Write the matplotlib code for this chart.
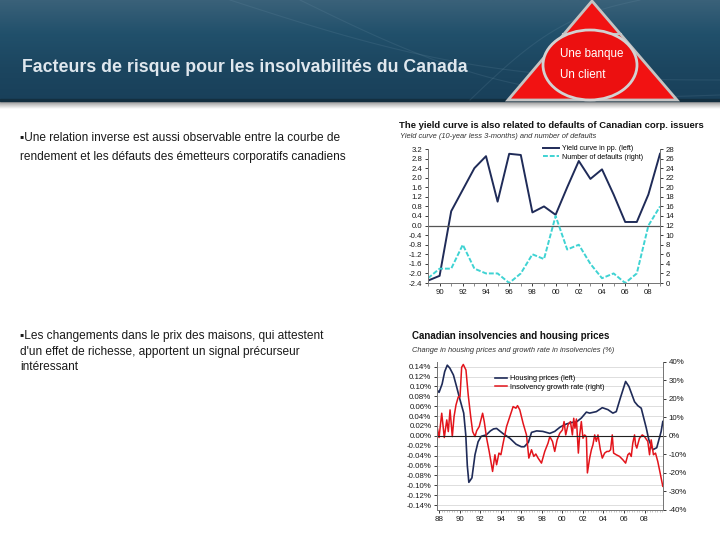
import numpy as np
import matplotlib.pyplot as plt
from matplotlib.colors import LinearSegmentedColormap
from matplotlib.patches import Polygon, Ellipse, Rectangle
from matplotlib.ticker import FuncFormatter, MultipleLocator

plt.rcParams['font.family'] = ['Liberation Sans', 'DejaVu Sans']

# --- chart 1: yield curve vs defaults (annual) ---
yc_years = [1989, 1990, 1991, 1992, 1993, 1994, 1995, 1996, 1997, 1998, 1999,
            2000, 2001, 2002, 2003, 2004, 2005, 2006, 2007, 2008, 2009]
yield_curve = [-2.3, -2.1, 0.6, 1.5, 2.4, 2.9, 1.0, 3.0, 2.95, 0.55, 0.8,
               0.45, 1.6, 2.7, 1.95, 2.35, 1.3, 0.15, 0.15, 1.3, 3.0]
defaults = [1, 3, 3, 8, 3, 2, 2, 0, 2, 6, 5,
            14, 7, 8, 4, 1, 2, 0, 2, 12, 16]

# --- chart 2: housing prices (left, %) ---
house_years = [1987.80, 1988.00, 1988.30, 1988.55, 1988.80, 1989.05, 1989.40, 1989.70,
               1990.00, 1990.40, 1990.60, 1990.75, 1990.90, 1991.20, 1991.50, 1991.80,
               1992.10, 1992.60, 1993.00, 1993.30, 1993.60, 1994.20, 1994.90, 1995.50,
               1996.00, 1996.30, 1996.70, 1997.00, 1997.50, 1998.10, 1998.78, 1999.26,
               1999.80, 2000.40, 2000.90, 2001.37, 2001.85, 2002.34, 2002.66, 2003.31,
               2003.89, 2004.44, 2004.92, 2005.25, 2005.64, 2006.16, 2006.48, 2007.03,
               2007.35, 2007.68, 2008.17, 2008.42, 2008.81, 2009.19, 2009.62, 2009.78]
house_prices = [0.093, 0.088, 0.105, 0.130, 0.143, 0.137, 0.123, 0.100,
                0.076, 0.046, 0.002, -0.060, -0.094, -0.085, -0.038, -0.012,
                -0.001, 0.002, 0.010, 0.014, 0.015, 0.005, -0.005, -0.017,
                -0.022, -0.022, -0.013, 0.007, 0.010, 0.009, 0.005, 0.009,
                0.018, 0.024, 0.027, 0.028, 0.036, 0.048, 0.046, 0.049,
                0.057, 0.053, 0.046, 0.049, 0.076, 0.110, 0.100, 0.069,
                0.061, 0.056, 0.016, -0.008, -0.028, -0.024, 0.009, 0.029]

# --- chart 2: insolvency growth rate (right, %) ---
insolv_years = [1987.78, 1988.00, 1988.26, 1988.51, 1988.75, 1988.90, 1989.07, 1989.29,
                1989.46, 1989.65, 1989.87, 1990.04, 1990.20, 1990.36, 1990.62, 1990.84,
                1991.08, 1991.27, 1991.50, 1991.66, 1991.91, 1992.24, 1992.40, 1992.63,
                1992.88, 1993.21, 1993.44, 1993.60, 1993.83, 1994.02, 1994.24, 1994.57,
                1994.89, 1995.21, 1995.48, 1995.64, 1995.86, 1996.18, 1996.51, 1996.74,
                1997.00, 1997.22, 1997.42, 1997.64, 1997.97, 1998.29, 1998.61, 1998.78,
                1999.04, 1999.26, 1999.49, 1999.75, 2000.01, 2000.17, 2000.33, 2000.55,
                2000.79, 2000.98, 2001.11, 2001.23, 2001.37, 2001.56, 2001.69, 2001.85,
                2002.01, 2002.17, 2002.34, 2002.44, 2002.66, 2002.83, 2002.98, 2003.15,
                2003.31, 2003.47, 2003.70, 2003.89, 2004.12, 2004.34, 2004.53, 2004.70,
                2004.86, 2004.99, 2005.25, 2005.57, 2005.89, 2006.16, 2006.38, 2006.54,
                2006.71, 2006.86, 2007.03, 2007.13, 2007.25, 2007.51, 2007.78, 2008.00,
                2008.32, 2008.49, 2008.65, 2008.87, 2009.07, 2009.29, 2009.52, 2009.78]
insolv_growth = [5.9, -0.9, 12.2, -0.9, 8.6, 2.3, 14.0, -0.4,
                 10.4, 16.7, 21.0, 21.0, 37.0, 38.5, 35.5, 22.0,
                 10.4, 2.3, -0.4, 2.7, 5.0, 12.2, 7.7, -1.3,
                 -8.4, -19.2, -10.2, -15.6, -9.3, -10.2, -3.9, 5.0,
                 10.4, 15.8, 14.9, 16.3, 14.0, 6.8, 0.5, -12.0,
                 -7.5, -11.1, -9.8, -12.0, -14.7, -8.4, -3.9, -0.4,
                 -3.0, -8.4, -2.2, 1.4, 3.2, 7.7, 0.5, 5.9,
                 7.7, 0.5, 9.5, 4.1, 9.1, -9.3, 0.5, 7.7,
                 -1.3, 0.5, -0.4, -20.0, -12.0, -7.5, -4.8, 0.5,
                 -3.0, 0.5, -7.5, -12.0, -9.3, -8.4, -8.4, -7.5,
                 0.5, -9.3, -10.2, -11.1, -12.9, -14.7, -10.2, -9.3,
                 -11.1, -3.9, 0.5, -4.8, -6.6, -1.3, 0.5, -0.4,
                 -3.0, -10.2, -2.2, -10.2, -9.3, -13.8, -20.0, -27.2]

W, H = 720, 540
NAVY = '#1f2b58'
CYAN = '#3fd3d3'
RED = '#e3141b'
TXT = '#1a1a1a'

fig = plt.figure(figsize=(7.2, 5.4), dpi=100)

# background layer in pixel coordinates
bg = fig.add_axes([0, 0, 1, 1])
bg.set_xlim(0, W)
bg.set_ylim(H, 0)
bg.axis('off')

# banner
grad = np.linspace(0, 1, 100).reshape(-1, 1)
bg.imshow(grad, extent=(0, W, 101, 0), aspect='auto', zorder=1,
          cmap=LinearSegmentedColormap.from_list('ban', ['#3a6179', '#21506b', '#1c4660', '#19405a']))
bg.add_patch(Rectangle((0, 98.5), W, 2.5, color='#132f40', zorder=2))
shade = np.linspace(0, 1, 50).reshape(-1, 1)
bg.imshow(shade, extent=(0, W, 109, 101), aspect='auto', zorder=1,
          cmap=LinearSegmentedColormap.from_list('sh', ['#8a8a8a', '#c8c8c8', '#ffffff']))

# faint decorative swooshes in banner
t = np.linspace(0, 1, 100)
for x0, y0, x1, y1, bend in [(230, 0, 720, 80, 25), (300, 0, 720, 95, 35), (640, 0, 470, 100, -20)]:
    xs = x0 + (x1 - x0) * t
    ys = y0 + (y1 - y0) * t + bend * np.sin(np.pi * t)
    bg.plot(xs, ys, color='#6f92a8', lw=0.8, alpha=0.18, zorder=2)

bg.text(22, 67, 'Facteurs de risque pour les insolvabilités du Canada', color='#dfe7ee',
        fontsize=12.8, fontweight='bold', va='center', ha='left', zorder=5)

# red triangle logo
bg.add_patch(Polygon([(508, 100), (592, 1), (677, 100)], closed=True, fc='#f21212',
                     ec='#c4c4c4', lw=2, zorder=3))
bg.plot([563, 621], [34, 34], color='#c4c4c4', lw=1.5, zorder=3)
bg.add_patch(Ellipse((590, 65), 94, 70, fc='#ec1010', ec='#d2d2d2', lw=2, zorder=4))
bg.text(560, 54, 'Une banque', color='white', fontsize=8.4, va='center', ha='left', zorder=5)
bg.text(560, 75, 'Un client', color='white', fontsize=8.4, va='center', ha='left', zorder=5)

# bullet text
bullet1 = ['▪Une relation inverse est aussi observable entre la courbe de',
           'rendement et les défauts des émetteurs corporatifs canadiens']
bullet2 = ["▪Les changements dans le prix des maisons, qui attestent",
           "d'un effet de richesse, apportent un signal précurseur",
           "intéressant"]
for line, y in zip(bullet1, [138, 157]):
    bg.text(20, y, line, fontsize=8.6, color=TXT, va='center', ha='left')
for line, y in zip(bullet2, [336, 352, 367]):
    bg.text(20, y, line, fontsize=8.6, color=TXT, va='center', ha='left')

# chart titles
bg.text(399, 125, 'The yield curve is also related to defaults of Canadian corp. issuers',
        fontsize=6.8, fontweight='bold', color='#111111', va='center', ha='left')
bg.text(400, 137, 'Yield curve (10-year less 3-months) and number of defaults',
        fontsize=5.4, fontstyle='italic', color='#333333', va='center', ha='left')
bg.text(412, 336, 'Canadian insolvencies and housing prices',
        fontsize=7, fontweight='bold', color='#111111', va='center', ha='left')
bg.text(412, 350, 'Change in housing prices and growth rate in insolvencies (%)',
        fontsize=5.4, fontstyle='italic', color='#333333', va='center', ha='left')


def style_axes(ax, size):
    ax.set_facecolor('none')
    ax.spines['top'].set_visible(False)
    for s in ['left', 'right', 'bottom']:
        ax.spines[s].set_color('#777777')
        ax.spines[s].set_linewidth(0.7)
    ax.tick_params(labelsize=size, colors=TXT, length=2.5, width=0.6, pad=1.5)


def clean(v):
    return 0.0 if abs(v) < 1e-9 else v


# ---------------- chart 1 ----------------
ax1 = fig.add_axes([428 / W, 1 - 283 / H, 232 / W, 134 / H])
ax1r = ax1.twinx()
l1, = ax1.plot(yc_years, yield_curve, color=NAVY, lw=1.4, label='Yield curve in pp. (left)')
l2, = ax1r.plot(yc_years, defaults, color=CYAN, lw=1.4, ls=(0, (2.5, 1)),
                label='Number of defaults (right)')
ax1.axhline(0, color='#555555', lw=0.9)
ax1.set_xlim(1989, 2009)
ax1.set_ylim(-2.4, 3.2)
ax1r.set_ylim(0, 28)
ax1.set_yticks(np.arange(-2.4, 3.21, 0.4))
ax1.yaxis.set_major_formatter(FuncFormatter(lambda v, p: f'{clean(v):.1f}'))
ax1r.set_yticks(np.arange(0, 29, 2))
ax1.set_xticks(range(1990, 2009, 2))
ax1.xaxis.set_minor_locator(MultipleLocator(1))
ax1.set_xticklabels([f'{y % 100:02d}' for y in range(1990, 2009, 2)])
for a in (ax1, ax1r):
    style_axes(a, 5.6)
ax1.tick_params(which='minor', length=2, width=0.6, color='#777777')
ax1.legend(handles=[l1, l2], loc='upper left', bbox_to_anchor=(0.485, 1.05), frameon=False,
           fontsize=5.1, handlelength=2.2, handletextpad=0.4, labelspacing=0.25,
           borderaxespad=0)

# ---------------- chart 2 ----------------
ax2 = fig.add_axes([437 / W, 1 - 510 / H, 226 / W, 148.3 / H])
ax2r = ax2.twinx()
h1, = ax2.plot(house_years, house_prices, color=NAVY, lw=1.2, label='Housing prices (left)')
h2, = ax2r.plot(insolv_years, insolv_growth, color=RED, lw=1.1,
                label='Insolvency growth rate (right)')
ax2.set_xlim(1987.8, 2009.8)
ax2.set_ylim(-0.15, 0.15)
ax2r.set_ylim(-40, 40)
ax2.set_yticks(np.arange(-0.14, 0.141, 0.02))
ax2.yaxis.set_major_formatter(FuncFormatter(lambda v, p: f'{clean(v):.2f}%'))
ax2r.set_yticks(np.arange(-40, 41, 10))
ax2r.yaxis.set_major_formatter(FuncFormatter(lambda v, p: f'{clean(v):.0f}%'))
ax2.set_xticks(range(1988, 2009, 2))
ax2.set_xticklabels([f'{y % 100:02d}' for y in range(1988, 2009, 2)])
ax2.xaxis.set_minor_locator(MultipleLocator(0.25))
ax2.grid(axis='y', color='#d8d8d8', lw=0.6)
ax2.set_axisbelow(True)
ax2r.axhline(0, color='#222222', lw=0.8)
for a in (ax2, ax2r):
    style_axes(a, 5.7)
ax2.tick_params(which='minor', length=1.5, width=0.4, color='#999999')
ax2.legend(handles=[h1, h2], loc='upper left', bbox_to_anchor=(0.245, 0.93), frameon=False,
           fontsize=5.3, handlelength=1.6, handletextpad=0.4, labelspacing=0.2,
           borderaxespad=0)

fig.savefig('out.png', dpi=100)
